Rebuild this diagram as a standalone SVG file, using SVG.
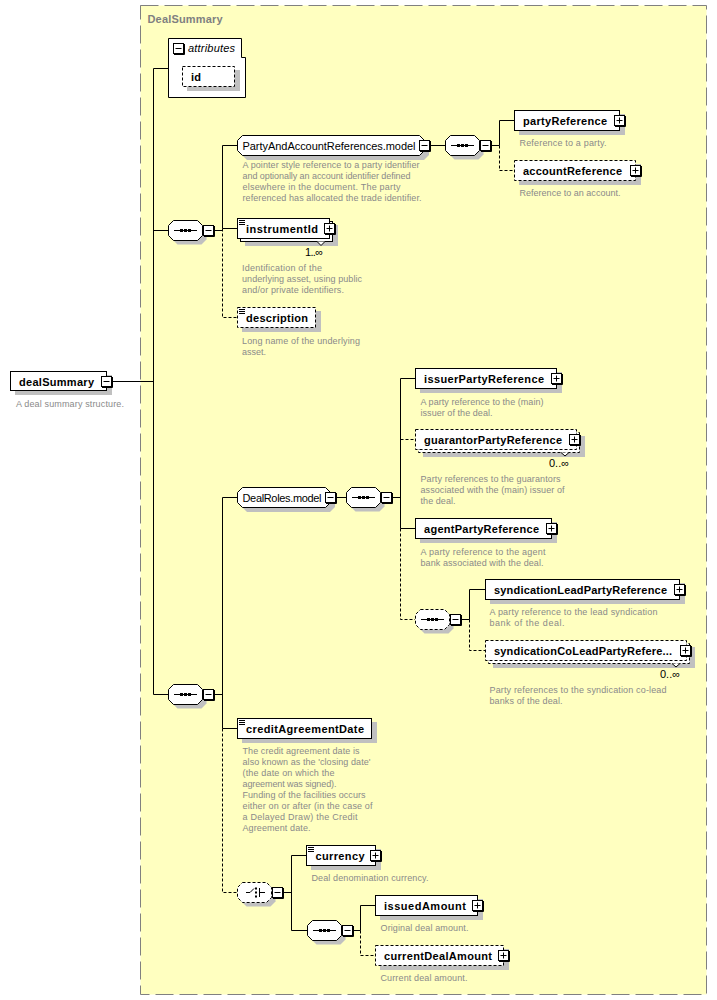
<svg xmlns="http://www.w3.org/2000/svg" xmlns:xlink="http://www.w3.org/1999/xlink" width="717" height="1000" viewBox="0 0 717 1000">
<style>
.frame{fill:#ffffc0;stroke:#808080;stroke-dasharray:18 6}
.sh{fill:#c0c0c0;stroke:none}
.bx{fill:#fff;stroke:#000}
.op{fill:#fff;stroke:#000;stroke-dasharray:3 2}
.c{fill:none;stroke:#000}
.d{fill:none;stroke:#000;stroke-dasharray:3 2}
.n{font-family:"Liberation Sans",Arial,sans-serif;font-size:11px;font-weight:bold;fill:#000}
.r{font-family:"Liberation Sans",Arial,sans-serif;font-size:11px;fill:#000}
.t{font-family:"Liberation Sans",Arial,sans-serif;font-size:9px;fill:#8a8a8a}
.ttl{font-family:"Liberation Sans",Arial,sans-serif;font-size:11px;font-weight:bold;fill:#808080}
</style>
<defs>
<g id="mn"><rect x="0.5" y="0.5" width="10" height="10" fill="#fff" stroke="#000"/><path d="M11.5,1V11.5H1" fill="none" stroke="#000"/><path d="M2.5,5.5H8.5" stroke="#000"/></g>
<g id="pl"><rect x="0.5" y="0.5" width="10" height="10" fill="#fff" stroke="#000"/><path d="M11.5,1V11.5H1" fill="none" stroke="#000"/><path d="M2.5,5.5H8.5M5.5,2.5V8.5" stroke="#000"/></g>
<path id="ln" d="M0,0.5H6M0,2.5H6M0,4.5H6" fill="none" stroke="#000"/>
<polygon id="oct" points="5.5,0.5 29.5,0.5 34.5,5.5 34.5,15.5 29.5,20.5 5.5,20.5 0.5,15.5 0.5,5.5"/>
<g id="seqin"><path d="M6,10.5H29" stroke="#000"/><rect x="12" y="9" width="3" height="3" fill="#000"/><rect x="16" y="9" width="3" height="3" fill="#000"/><rect x="20" y="9" width="3" height="3" fill="#000"/></g>
</defs>

<rect class="frame" x="140.5" y="5.5" width="566" height="989"/>
<text class="ttl" x="147.5" y="23" textLength="75">DealSummary</text>

<g id="connectors">
<path class="c" d="M113,381.5H153.5M153.5,68.5V694.5M153.5,68.5H168.5M153.5,230.5H168M153.5,694.5H168"/>
<path class="c" d="M215,230.5H222.5M222.5,145.5V228.5M222.5,145.5H237.5M222.5,228.5H237.5"/>
<path class="d" d="M222.5,228.5V317.5H237.5"/>
<path class="c" d="M431,145.5H445M492,145.5H499.5M499.5,120.5V145.5M499.5,120.5H514.5"/>
<path class="d" d="M499.5,145.5V170.5H514.5"/>
<path class="c" d="M215,694.5H222.5M222.5,497.5V728.5M222.5,497.5H237.5M222.5,728.5H237.5"/>
<path class="d" d="M222.5,728.5V892.5H237"/>
<path class="c" d="M337,497.5H346M393,497.5H400.5M400.5,378.5V528.5M400.5,378.5H415.5M400.5,528.5H415.5"/>
<path class="d" d="M400.5,439.5H415.5M400.5,528.5V619.5H415"/>
<path class="c" d="M462,619.5H469.5M469.5,589.5V619.5M469.5,589.5H485.5"/>
<path class="d" d="M469.5,619.5V650.5H485.5"/>
<path class="c" d="M284,892.5H291.5M291.5,855.5V930.5M291.5,855.5H306.5M291.5,930.5H307"/>
<path class="c" d="M354,930.5H360.5M360.5,905.5V930.5M360.5,905.5H375.5"/>
<path class="d" d="M360.5,930.5V955.5H375.5"/>
</g>

<g id="dealSummary">
<rect class="sh" x="15" y="375" width="97" height="20"/>
<rect class="bx" x="10.5" y="371.5" width="96" height="19"/>
<text class="n" x="19" y="385.5" textLength="75">dealSummary</text>
<use href="#mn" x="101" y="376"/>
<text class="t" x="16" y="407" textLength="108">A deal summary structure.</text>
</g>

<g id="attributes">
<path class="bx" d="M168.5,38.5H241.5V57.5H245.5V97.5H168.5Z"/>
<use href="#mn" x="173" y="43"/>
<text class="r" x="188" y="52" font-style="italic" textLength="47">attributes</text>
</g>
<g id="id">
<rect class="sh" x="187" y="70" width="53" height="21"/>
<rect class="op" x="182.5" y="66.5" width="52" height="20"/>
<text class="n" x="191" y="80.5" textLength="10">id</text>
</g>

<g id="seq1">
<use href="#oct" class="sh" transform="translate(172,224)"/>
<use href="#oct" class="bx" transform="translate(168,220)"/>
<use href="#seqin" transform="translate(168,220)"/>
<use href="#mn" x="203" y="225"/>
</g>

<g id="PartyAndAccountReferences">
<polygon class="sh" points="247,140 424,140 429,145 429,155 424,160 247,160 242,155 242,145"/>
<polygon class="bx" points="242.5,135.5 419.5,135.5 424.5,140.5 424.5,150.5 419.5,155.5 242.5,155.5 237.5,150.5 237.5,140.5"/>
<text class="r" x="242.5" y="149.5" textLength="173">PartyAndAccountReferences.model</text>
<use href="#mn" x="419" y="140"/>
<text class="t" x="242.5" y="168" textLength="177">A pointer style reference to a party identifier</text>
<text class="t" x="242.5" y="179" textLength="168">and optionally an account identifier defined</text>
<text class="t" x="242.5" y="190" textLength="158">elsewhere in the document. The party</text>
<text class="t" x="242.5" y="201" textLength="179">referenced has allocated the trade identifier.</text>
</g>

<g id="seqPAR">
<use href="#oct" class="sh" transform="translate(449,139)"/>
<use href="#oct" class="bx" transform="translate(445,135)"/>
<use href="#seqin" transform="translate(445,135)"/>
<use href="#mn" x="480" y="140"/>
</g>

<g id="partyReference">
<rect class="sh" x="519" y="114" width="106" height="21"/>
<rect class="bx" x="514.5" y="110.5" width="105" height="20"/>
<text class="n" x="523" y="124.5" textLength="84">partyReference</text>
<use href="#pl" x="614" y="115"/>
<text class="t" x="519.5" y="146" textLength="87">Reference to a party.</text>
</g>

<g id="accountReference">
<rect class="sh" x="519" y="164" width="122" height="21"/>
<rect class="op" x="514.5" y="160.5" width="121" height="20"/>
<text class="n" x="523" y="174.5" textLength="99">accountReference</text>
<use href="#pl" x="630" y="165"/>
<text class="t" x="519.5" y="196" textLength="101">Reference to an account.</text>
</g>

<g id="instrumentId">
<rect class="sh" x="245" y="225" width="93" height="21"/>
<rect class="bx" x="240.5" y="221.5" width="92" height="20"/>
<rect class="bx" x="237.5" y="218.5" width="92" height="20"/>
<use href="#ln" x="239" y="220"/>
<text class="n" x="246" y="232.5" textLength="72">instrumentId</text>
<use href="#pl" x="324" y="223"/>
<path d="M317,241.5L321,245.5L325,241.5" fill="#fff" stroke="#000"/>
<text class="r" x="305" y="255.5" textLength="18">1..∞</text>
<text class="t" x="242" y="271" textLength="80">Identification of the</text>
<text class="t" x="242" y="282" textLength="120">underlying asset, using public</text>
<text class="t" x="242" y="293" textLength="102">and/or private identifiers.</text>
</g>

<g id="description">
<rect class="sh" x="242" y="311" width="79" height="21"/>
<rect class="op" x="237.5" y="307.5" width="78" height="20"/>
<use href="#ln" x="239" y="309"/>
<text class="n" x="246" y="321.5" textLength="62">description</text>
<text class="t" x="242" y="343.5" textLength="118">Long name of the underlying</text>
<text class="t" x="242" y="354.5" textLength="24">asset.</text>
</g>

<g id="seq2">
<use href="#oct" class="sh" transform="translate(172,688)"/>
<use href="#oct" class="bx" transform="translate(168,684)"/>
<use href="#seqin" transform="translate(168,684)"/>
<use href="#mn" x="203" y="689"/>
</g>

<g id="DealRoles">
<polygon class="sh" points="247,492 330,492 335,497 335,507 330,512 247,512 242,507 242,497"/>
<polygon class="bx" points="242.5,487.5 325.5,487.5 330.5,492.5 330.5,502.5 325.5,507.5 242.5,507.5 237.5,502.5 237.5,492.5"/>
<text class="r" x="242.5" y="502" textLength="79">DealRoles.model</text>
<use href="#mn" x="325" y="492"/>
</g>

<g id="seqDR">
<use href="#oct" class="sh" transform="translate(350,491)"/>
<use href="#oct" class="bx" transform="translate(346,487)"/>
<use href="#seqin" transform="translate(346,487)"/>
<use href="#mn" x="381" y="492"/>
</g>

<g id="issuerPartyReference">
<rect class="sh" x="420" y="372" width="142" height="21"/>
<rect class="bx" x="415.5" y="368.5" width="141" height="20"/>
<text class="n" x="424" y="383" textLength="120">issuerPartyReference</text>
<use href="#pl" x="551" y="373"/>
<text class="t" x="420.5" y="405" textLength="123">A party reference to the (main)</text>
<text class="t" x="420.5" y="416" textLength="72">issuer of the deal.</text>
</g>

<g id="guarantorPartyReference">
<rect class="sh" x="423" y="436" width="162" height="21"/>
<rect class="op" x="418.5" y="432.5" width="161" height="20"/>
<rect class="op" x="415.5" y="429.5" width="161" height="20"/>
<text class="n" x="424" y="444" textLength="138">guarantorPartyReference</text>
<use href="#pl" x="569" y="434"/>
<path d="M561,452.5L565,456L569,452.5" fill="#fff" stroke="#000"/>
<text class="r" x="549" y="467" textLength="20">0..∞</text>
<text class="t" x="420.5" y="482" textLength="140">Party references to the guarantors</text>
<text class="t" x="420.5" y="493" textLength="144">associated with the (main) issuer of</text>
<text class="t" x="420.5" y="504" textLength="35">the deal.</text>
</g>

<g id="agentPartyReference">
<rect class="sh" x="420" y="522" width="137" height="21"/>
<rect class="bx" x="415.5" y="518.5" width="136" height="20"/>
<text class="n" x="424" y="533" textLength="115">agentPartyReference</text>
<use href="#pl" x="546" y="523"/>
<text class="t" x="420.5" y="554.5" textLength="125">A party reference to the agent</text>
<text class="t" x="420.5" y="565.5" textLength="123">bank associated with the deal.</text>
</g>

<g id="seqSynd">
<use href="#oct" class="sh" transform="translate(419,613)"/>
<use href="#oct" class="op" transform="translate(415,609)"/>
<use href="#seqin" transform="translate(415,609)"/>
<use href="#mn" x="450" y="614"/>
</g>

<g id="syndicationLeadPartyReference">
<rect class="sh" x="490" y="583" width="195" height="21"/>
<rect class="bx" x="485.5" y="579.5" width="194" height="20"/>
<text class="n" x="494" y="594" textLength="173">syndicationLeadPartyReference</text>
<use href="#pl" x="674" y="584"/>
<text class="t" x="489.5" y="615" textLength="168">A party reference to the lead syndication</text>
<text class="t" x="489.5" y="626" textLength="75">bank of the deal.</text>
</g>

<g id="syndicationCoLeadPartyReference">
<rect class="sh" x="493" y="647" width="202" height="21"/>
<rect class="op" x="488.5" y="643.5" width="201" height="20"/>
<rect class="op" x="485.5" y="640.5" width="201" height="20"/>
<text class="n" x="494" y="655" textLength="178">syndicationCoLeadPartyRefere...</text>
<use href="#pl" x="680" y="645"/>
<path d="M672,663.5L676,667L680,663.5" fill="#fff" stroke="#000"/>
<text class="r" x="660" y="678" textLength="20">0..∞</text>
<text class="t" x="489.5" y="692.5" textLength="177">Party references to the syndication co-lead</text>
<text class="t" x="489.5" y="703.5" textLength="73">banks of the deal.</text>
</g>

<g id="creditAgreementDate">
<rect class="sh" x="242" y="722" width="135" height="21"/>
<rect class="bx" x="237.5" y="718.5" width="134" height="20"/>
<use href="#ln" x="239" y="720"/>
<text class="n" x="246" y="733" textLength="118">creditAgreementDate</text>
<text class="t" x="242.5" y="754" textLength="117">The credit agreement date is</text>
<text class="t" x="242.5" y="765" textLength="128">also known as the 'closing date'</text>
<text class="t" x="242.5" y="776" textLength="92">(the date on which the</text>
<text class="t" x="242.5" y="787" textLength="94">agreement was signed).</text>
<text class="t" x="242.5" y="798" textLength="123">Funding of the facilities occurs</text>
<text class="t" x="242.5" y="809" textLength="130">either on or after (in the case of</text>
<text class="t" x="242.5" y="820" textLength="115">a Delayed Draw) the Credit</text>
<text class="t" x="242.5" y="831" textLength="68">Agreement date.</text>
</g>

<g id="choice">
<use href="#oct" class="sh" transform="translate(241,886)"/>
<use href="#oct" class="op" transform="translate(237,882)"/>
<path d="M246,892.5H250L254,888.5M259.5,888V897M259.5,892.5H265" fill="none" stroke="#000"/>
<rect x="255" y="887.5" width="2" height="2" fill="#000"/>
<rect x="255" y="891.5" width="2" height="2" fill="#000"/>
<rect x="255" y="895.5" width="2" height="2" fill="#000"/>
<use href="#mn" x="272" y="887"/>
</g>

<g id="currency">
<rect class="sh" x="311" y="849" width="70" height="21"/>
<rect class="bx" x="306.5" y="845.5" width="69" height="20"/>
<use href="#ln" x="308" y="847"/>
<text class="n" x="315.5" y="860" textLength="49">currency</text>
<use href="#pl" x="370" y="850"/>
<text class="t" x="311.5" y="881" textLength="117">Deal denomination currency.</text>
</g>

<g id="seqAmt">
<use href="#oct" class="sh" transform="translate(311,924)"/>
<use href="#oct" class="bx" transform="translate(307,920)"/>
<use href="#seqin" transform="translate(307,920)"/>
<use href="#mn" x="342" y="925"/>
</g>

<g id="issuedAmount">
<rect class="sh" x="380" y="899" width="103" height="21"/>
<rect class="bx" x="375.5" y="895.5" width="102" height="20"/>
<text class="n" x="384" y="910" textLength="82">issuedAmount</text>
<use href="#pl" x="472" y="900"/>
<text class="t" x="380.5" y="931" textLength="88">Original deal amount.</text>
</g>

<g id="currentDealAmount">
<rect class="sh" x="380" y="949" width="129" height="21"/>
<rect class="op" x="375.5" y="945.5" width="128" height="20"/>
<text class="n" x="384" y="960" textLength="108">currentDealAmount</text>
<use href="#pl" x="498" y="950"/>
<text class="t" x="380.5" y="981" textLength="87">Current deal amount.</text>
</g>
</svg>
